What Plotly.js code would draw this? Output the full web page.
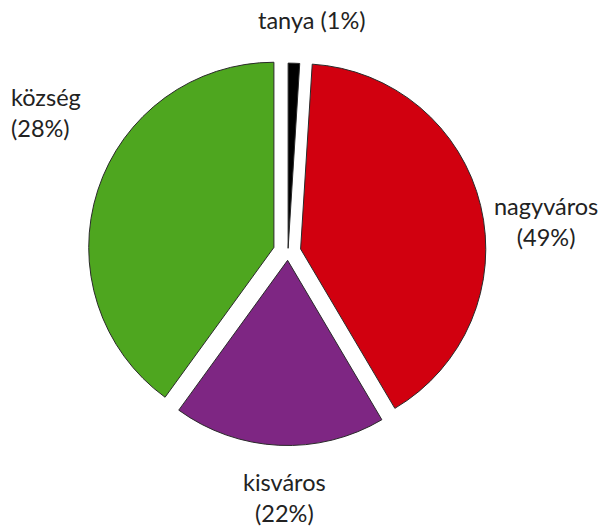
<!DOCTYPE html>
<html>
<head>
<meta charset="utf-8">
<script src="https://cdn.plot.ly/plotly-3.0.1.min.js"></script>
<style>html,body{margin:0;padding:0;background:#fff;}#chart{width:603px;height:529px;}</style>
</head>
<body>
<div id="chart"></div>
<script>
// Categories in drawing order (clockwise from 12 o'clock)
const categories = ["tanya", "nagyváros", "kisváros", "község"];
// Slice sizes as drawn in the picture (angular share, %)
const sliceValues = [1, 40.5, 18.5, 40];
// Percentages printed on the labels
const printedPercents = ["1%", "49%", "22%", "28%"];
const colors = ["#000000", "#D1000F", "#7E2683", "#4EA61F"];
const pulls = [0.02, 0.07, 0.045, 0.08];

const cx = 288, cyTop = 252, box = 400; // pie box in pixels
const W = 603, H = 529;

const trace = {
  type: "pie",
  labels: categories,
  values: sliceValues,
  sort: false,
  direction: "clockwise",
  rotation: 0,
  pull: pulls,
  marker: { colors: colors, line: { color: "#2a2a2a", width: 1 } },
  textinfo: "none",
  hoverinfo: "label+percent",
  showlegend: false,
  domain: {
    x: [(cx - box / 2) / W, (cx + box / 2) / W],
    y: [(H - cyTop - box / 2) / H, (H - cyTop + box / 2) / H]
  }
};

// label placements (paper px, from top-left)
const labelPos = [
  { x: 312, y: 20, align: "center", lines: 1 },
  { x: 546, y: 221, align: "center", lines: 2 },
  { x: 284, y: 497, align: "center", lines: 2 },
  { x: 9, y: 112, align: "left", lines: 2 }
];

const annotations = categories.map((c, i) => {
  const p = labelPos[i];
  const text = p.lines === 1 ? c + " (" + printedPercents[i] + ")" : c + "<br>(" + printedPercents[i] + ")";
  return {
    text: text,
    xref: "paper", yref: "paper",
    x: p.x / W, y: 1 - p.y / H,
    xanchor: p.align === "left" ? "left" : "center",
    yanchor: "middle",
    align: p.align,
    showarrow: false,
    font: { family: "Lato, 'Open Sans', sans-serif", size: 23.5, color: "#222" }
  };
});

const layout = {
  width: W, height: H,
  margin: { l: 0, r: 0, t: 0, b: 0 },
  paper_bgcolor: "#fff",
  annotations: annotations
};

Plotly.newPlot("chart", [trace], layout, { displayModeBar: false, staticPlot: true });
</script>
</body>
</html>
